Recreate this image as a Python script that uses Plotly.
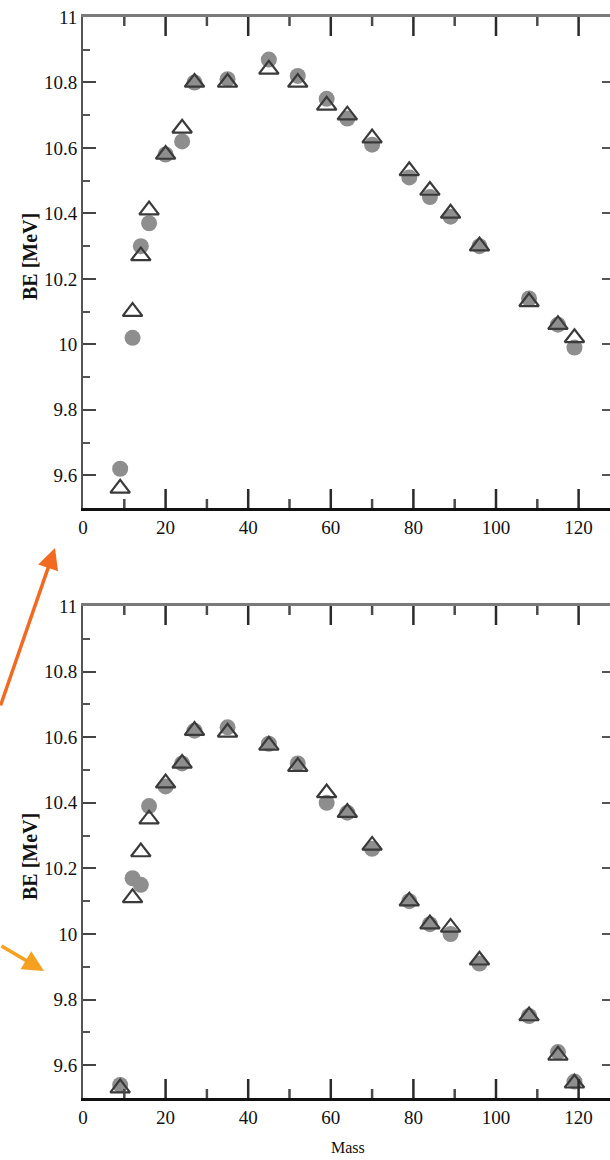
import plotly.graph_objects as go

# Nuclear mass numbers shared by both panels
mass = [9, 12, 14, 16, 20, 24, 27, 35, 45, 52, 59, 64, 70, 79, 84, 89, 96, 108, 115, 119]

# Upper panel: binding energies [MeV]
top_circle = [9.62, 10.02, 10.30, 10.37, 10.58, 10.62, 10.80, 10.81, 10.87, 10.82,
              10.75, 10.69, 10.61, 10.51, 10.45, 10.39, 10.30, 10.14, 10.06, 9.99]
top_triangle = [9.56, 10.10, 10.27, 10.41, 10.58, 10.66, 10.80, 10.80, 10.84, 10.80,
                10.73, 10.70, 10.63, 10.53, 10.47, 10.40, 10.30, 10.13, 10.06, 10.02]

# Lower panel: binding energies [MeV]
bot_circle = [9.54, 10.17, 10.15, 10.39, 10.45, 10.52, 10.62, 10.63, 10.58, 10.52,
              10.40, 10.37, 10.26, 10.10, 10.03, 10.00, 9.91, 9.75, 9.64, 9.55]
bot_triangle = [9.53, 10.11, 10.25, 10.35, 10.46, 10.52, 10.62, 10.615, 10.575, 10.51,
                10.43, 10.37, 10.27, 10.10, 10.03, 10.02, 9.92, 9.75, 9.63, 9.545]

x_ticks = [0, 20, 40, 60, 80, 100, 120]
y_ticks = [9.6, 9.8, 10, 10.2, 10.4, 10.6, 10.8, 11]
y_ticklabels = ["9.6", "9.8", "10", "10.2", "10.4", "10.6", "10.8", "11"]

W, H = 610, 1160
ML, MR, MT, MB = 83, 0, 17, 62
XR = [0, (W - ML - MR) / 4.13]
YR = [9.5, 11.0]
plot_h = H - MT - MB
top_dom = [(H - MB - 508) / plot_h, 1.0]
bot_dom = [0.0, (H - MB - 606) / plot_h]

FONT = "Liberation Serif"
CIRCLE_COLOR = "#8e8e8e"
TRI_COLOR = "#3a3a3a"

fig = go.Figure()

# circles on the main axes, triangles on the overlaid (top/right) axes
panels = [
    (("x", "y"), ("x3", "y3"), top_circle, top_triangle),
    (("x2", "y2"), ("x4", "y4"), bot_circle, bot_triangle),
]
for (xa, ya), (xb, yb), circ, tri in panels:
    fig.add_trace(go.Scatter(
        x=mass, y=circ, mode="markers", xaxis=xa, yaxis=ya, showlegend=False,
        marker=dict(symbol="circle", size=16, color=CIRCLE_COLOR, line=dict(width=0)),
    ))
    fig.add_trace(go.Scatter(
        x=mass, y=tri, mode="markers", xaxis=xb, yaxis=yb, showlegend=False,
        marker=dict(symbol="triangle-up-open", size=17, color=TRI_COLOR,
                    line=dict(width=2.2, color=TRI_COLOR)),
    ))


def tick_font():
    return dict(family=FONT, size=19, color="#111")


# main x axis: black bottom line and tick labels
def label_x(anchor):
    return dict(
        range=XR, domain=[0, 1], anchor=anchor, side="bottom",
        showline=True, linecolor="#111", linewidth=3, mirror=False,
        tickmode="array", tickvals=x_ticks, ticktext=[str(v) for v in x_ticks],
        ticks="", tickfont=tick_font(),
        showgrid=False, zeroline=False,
    )


# overlaid x axis: grey frame line on top
def top_x(overlay, anchor):
    return dict(
        range=XR, overlaying=overlay, anchor=anchor, side="top",
        showline=True, linecolor="#7a7a7a", linewidth=2.5,
        showticklabels=False, ticks="",
        showgrid=False, zeroline=False,
    )


def left_y(anchor, dom):
    return dict(
        range=YR, domain=dom, anchor=anchor, side="left",
        showline=True, linecolor="#555", linewidth=2, mirror=False,
        tickmode="array", tickvals=y_ticks, ticktext=y_ticklabels,
        ticks="inside", ticklen=13, tickwidth=2, tickcolor="#444",
        minor=dict(dtick=0.1, tick0=9.5, ticks="inside", ticklen=7, tickwidth=2, tickcolor="#555"),
        tickfont=tick_font(),
        showgrid=False, zeroline=False,
    )


def right_y(overlay, anchor):
    return dict(
        range=YR, overlaying=overlay, anchor=anchor, side="right",
        showline=False, tickmode="array", tickvals=y_ticks, showticklabels=False,
        ticks="inside", ticklen=8, tickwidth=2, tickcolor="#555",
        showgrid=False, zeroline=False,
    )


fig.update_layout(
    width=W, height=H,
    margin=dict(l=ML, r=MR, t=MT, b=MB, pad=0),
    paper_bgcolor="white", plot_bgcolor="white",
    font=dict(family=FONT, color="#111"),
    xaxis=label_x("y"),
    yaxis=left_y("x", top_dom),
    xaxis2=label_x("y2"),
    yaxis2=left_y("x2", bot_dom),
    xaxis3=top_x("x", "y3"),
    yaxis3=right_y("y", "x3"),
    xaxis4=top_x("x2", "y4"),
    yaxis4=right_y("y2", "x4"),
)

# Frame tick marks on the bottom (pointing up) and top (pointing down) edges:
# x positions go through the x axis scale, lengths are fractions of the figure
minor_x = [(a + b) / 2 for a, b in zip(x_ticks[:-1], x_ticks[1:])]
frac = 1.0 / plot_h
for xref, dom in [("x", top_dom), ("x2", bot_dom)]:
    for vals, length, col in [(x_ticks[1:], 19, "#2a2a2a"), (minor_x, 9, "#4a4a4a")]:
        for v in vals:
            for base, sign in [(dom[0], 1), (dom[1], -1)]:
                fig.add_shape(
                    type="line", xref=xref, yref="paper",
                    x0=v, x1=v, y0=base, y1=base + sign * length * frac,
                    line=dict(color=col, width=2.5), layer="above",
                )

# Axis titles
for ycen in [257, 857]:
    fig.add_annotation(
        text="<b>BE [MeV]</b>", xref="paper", yref="paper",
        x=(30 - ML) / (W - ML - MR), y=(H - MB - ycen) / plot_h,
        showarrow=False, textangle=-90, font=dict(family=FONT, size=20, color="#111"),
        xanchor="center", yanchor="middle",
    )
fig.add_annotation(
    text="Mass", xref="paper", yref="paper",
    x=(348 - ML) / (W - ML - MR), y=(H - MB - 1147) / plot_h,
    showarrow=False, font=dict(family=FONT, size=16, color="#111"),
    xanchor="center", yanchor="middle",
)

# Pointer arrows in the left margin
arrows = [
    (55, 548, 0, 707, "#f26a21"),
    (44, 971, 0, 945, "#f5a01f"),
]
for tx, ty, sx, sy, col in arrows:
    fig.add_annotation(
        text="", xref="paper", yref="paper",
        x=(tx - ML) / (W - ML - MR), y=(H - MB - ty) / plot_h,
        ax=sx - tx, ay=sy - ty, axref="pixel", ayref="pixel",
        showarrow=True, arrowhead=2, arrowsize=1.2, arrowwidth=3.5, arrowcolor=col,
    )

fig.write_html("out.html")
